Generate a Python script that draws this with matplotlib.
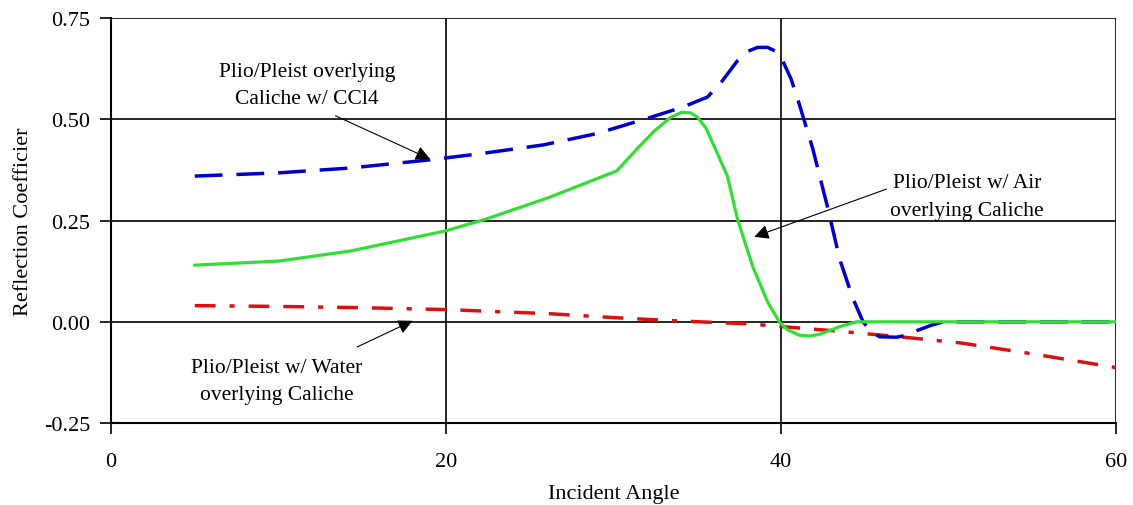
import matplotlib.pyplot as plt

plt.rcParams['font.family'] = ['Liberation Serif', 'DejaVu Serif']

# Plio/Pleist overlying Caliche w/ CCl4
ccl4_x = [5, 10, 14.3, 19, 22, 25.8, 29, 32.2, 34.1, 35.6, 36.4, 37.4, 38.0, 38.6, 39.2, 39.7, 40.1, 40.6, 41, 41.9, 42.8, 43.5, 44.3, 44.9, 45.4, 45.9, 46.9, 47.5, 48.1, 49.0, 49.7, 55, 60]
ccl4_y = [0.36, 0.368, 0.38, 0.40, 0.415, 0.437, 0.465, 0.505, 0.53, 0.555, 0.59, 0.645, 0.668, 0.678, 0.678, 0.668, 0.645, 0.60, 0.55, 0.427, 0.28, 0.155, 0.057, 0.0, -0.025, -0.037, -0.038, -0.033, -0.022, -0.008, 0.0, 0.0, 0.0]

# Plio/Pleist w/ Air overlying Caliche
air_x = [5, 10, 14.3, 20, 22.4, 26.2, 30.2, 31.4, 32.4, 33.4, 34.1, 34.6, 35, 35.5, 35.9, 36.8, 37.4, 38.3, 39.2, 39.9, 40.4, 41.1, 41.7, 42.3, 43.5, 44.5, 50, 55, 60]
air_y = [0.14, 0.15, 0.175, 0.225, 0.254, 0.308, 0.373, 0.427, 0.47, 0.505, 0.518, 0.516, 0.506, 0.48, 0.444, 0.36, 0.254, 0.138, 0.049, 0.0, -0.02, -0.033, -0.035, -0.031, -0.012, 0.0, 0.0, 0.0, 0.0]

# Plio/Pleist w/ Water overlying Caliche
water_x = [5, 10, 14.9, 20.2, 26.2, 30.2, 33.4, 38.1, 40.1, 43.1, 47.1, 50.7, 55, 60]
water_y = [0.04, 0.038, 0.035, 0.03, 0.02, 0.01, 0.003, -0.005, -0.012, -0.022, -0.037, -0.052, -0.079, -0.113]

x_ticks = [0, 20, 40, 60]
y_ticks = [-0.25, 0.0, 0.25, 0.50, 0.75]
y_ticklabels = ['-0.25', '0.00', '0.25', '0.50', '0.75']

fig = plt.figure(figsize=(11.33, 5.06), dpi=100)
ax = fig.add_axes([0.098, 0.162, 0.887, 0.8])

ax.plot(ccl4_x, ccl4_y, color='#0000c8', linewidth=2.5, dashes=(8, 4), zorder=3)
ax.plot(air_x, air_y, color='#33dd33', linewidth=2.3, zorder=4)
ax.plot(water_x, water_y, color='#dd1010', linewidth=2.5,
        dashes=(6, 4, 1.5, 4, 6, 4), zorder=2)

ax.set_xlim(0, 60)
ax.set_ylim(-0.25, 0.75)
ax.set_xticks(x_ticks)
ax.set_yticks(y_ticks)
ax.set_yticklabels(y_ticklabels)
ax.grid(True, color='black', linewidth=1.2)
ax.set_axisbelow(True)
for s in ['top', 'right']:
    ax.spines[s].set_visible(False)
for s in ['left', 'bottom']:
    ax.spines[s].set_linewidth(1.5)
ax.tick_params(direction='out', length=8, width=1.2, labelsize=16, pad=7)
ax.tick_params(axis='x', pad=13)
ax.set_xlabel('Incident Angle', fontsize=16, labelpad=9)
ax.set_ylabel('Reflection Coefficier', fontsize=16, labelpad=8)

arrow = dict(arrowstyle='-|>', color='black', lw=0.8, mutation_scale=22, shrinkA=0, shrinkB=0)
ax.annotate('', xy=(19.05, 0.402), xytext=(13.4, 0.509), arrowprops=arrow)
ax.annotate('', xy=(38.4, 0.21), xytext=(46.3, 0.328), arrowprops=arrow)
ax.annotate('', xy=(18.0, 0.0025), xytext=(14.7, -0.062), arrowprops=arrow)

ax.text(11.7, 0.585, 'Plio/Pleist overlying\nCaliche w/ CCl4', ha='center', va='center',
        fontsize=15.5, linespacing=1.6)
ax.text(51.1, 0.31, 'Plio/Pleist w/ Air\noverlying Caliche', ha='center', va='center',
        fontsize=15.5, linespacing=1.6)
ax.text(9.9, -0.146, 'Plio/Pleist w/ Water\noverlying Caliche', ha='center', va='center',
        fontsize=15.5, linespacing=1.6)

plt.savefig('out.png')
